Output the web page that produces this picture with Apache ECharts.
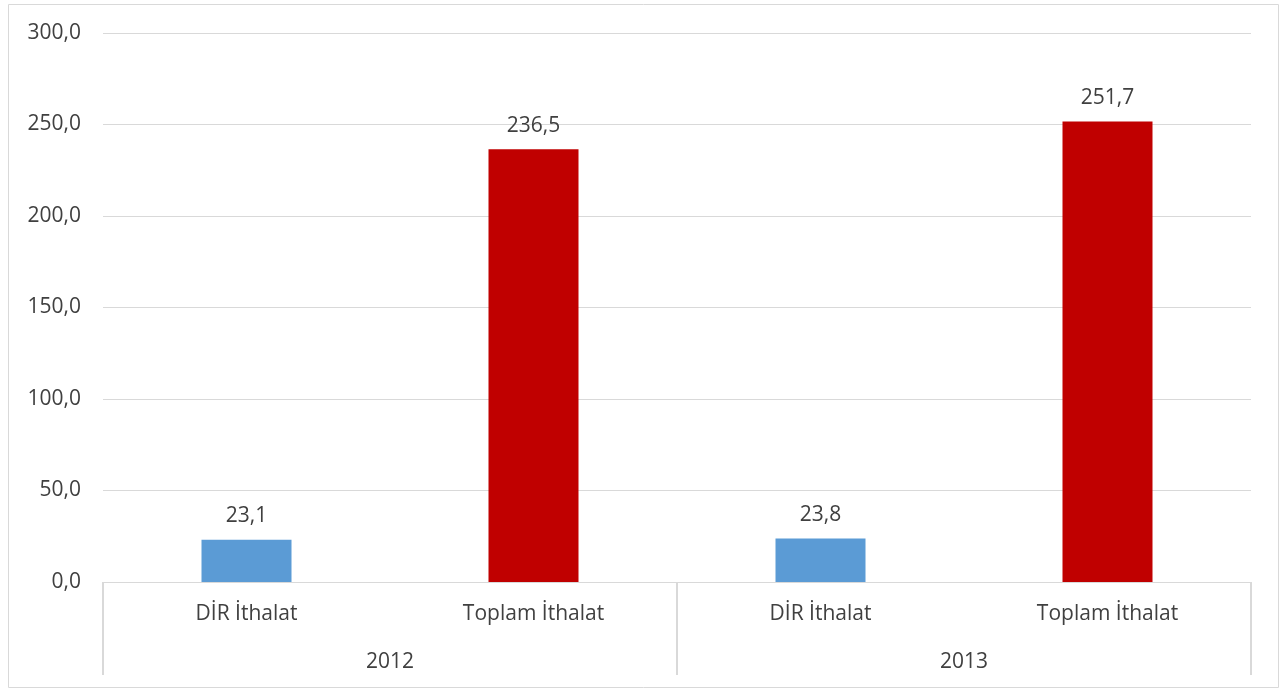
<!DOCTYPE html>
<html>
<head>
<meta charset="utf-8">
<script src="https://cdn.jsdelivr.net/npm/echarts@6/dist/echarts.min.js"></script>
<style>
html,body{margin:0;padding:0;background:#fff;}
#chart{width:1282px;height:689px;}
</style>
</head>
<body>
<div id="chart"></div>
<script>
const categories = ['DİR İthalat', 'Toplam İthalat', 'DİR İthalat', 'Toplam İthalat'];
const years = ['2012', '2013'];
const values = [23.1, 236.5, 23.8, 251.7];
const barColors = ['#5b9bd5', '#c00000', '#5b9bd5', '#c00000'];

const FONT = 'Open Sans';
const TXT = '#404040';
const FS = 21;
const chart = echarts.init(document.getElementById('chart'));
const fmt = v => Number(v).toFixed(1).replace('.', ',');

chart.setOption({
  animation: false,
  textStyle: { fontFamily: FONT },
  grid: { left: 103, right: 31, top: 33, bottom: 107, containLabel: false },
  xAxis: [
    {
      type: 'category',
      data: categories,
      position: 'bottom',
      axisLine: { show: true, lineStyle: { color: '#d9d9d9', width: 1 } },
      axisTick: { show: false },
      axisLabel: { color: TXT, fontSize: FS, fontFamily: FONT, margin: 22, interval: 0 }
    },
    {
      type: 'category',
      data: years,
      position: 'bottom',
      boundaryGap: true,
      axisLine: { show: false },
      axisTick: { show: true, length: 93, lineStyle: { color: '#d9d9d9', width: 2 } },
      axisLabel: { color: TXT, fontSize: FS, fontFamily: FONT, margin: 70, interval: 0 }
    }
  ],
  yAxis: {
    type: 'value',
    min: 0, max: 300, interval: 50,
    axisLine: { show: false },
    axisTick: { show: false },
    splitLine: { lineStyle: { color: '#d9d9d9', width: 1 } },
    axisLabel: { color: TXT, fontSize: FS, fontFamily: FONT, margin: 22, formatter: fmt }
  },
  series: [{
    type: 'bar',
    xAxisIndex: 0,
    barWidth: 90,
    data: values.map((v, i) => ({ value: v, itemStyle: { color: barColors[i] } })),
    label: { show: true, position: 'top', distance: 13, color: TXT, fontSize: FS, fontFamily: FONT, formatter: p => fmt(p.value) }
  }],
  graphic: [{
    type: 'rect',
    shape: { x: 8.5, y: 4.5, width: 1270, height: 683 },
    style: { fill: 'none', stroke: '#d9d9d9', lineWidth: 1 },
    silent: true
  }]
});
</script>
</body>
</html>
